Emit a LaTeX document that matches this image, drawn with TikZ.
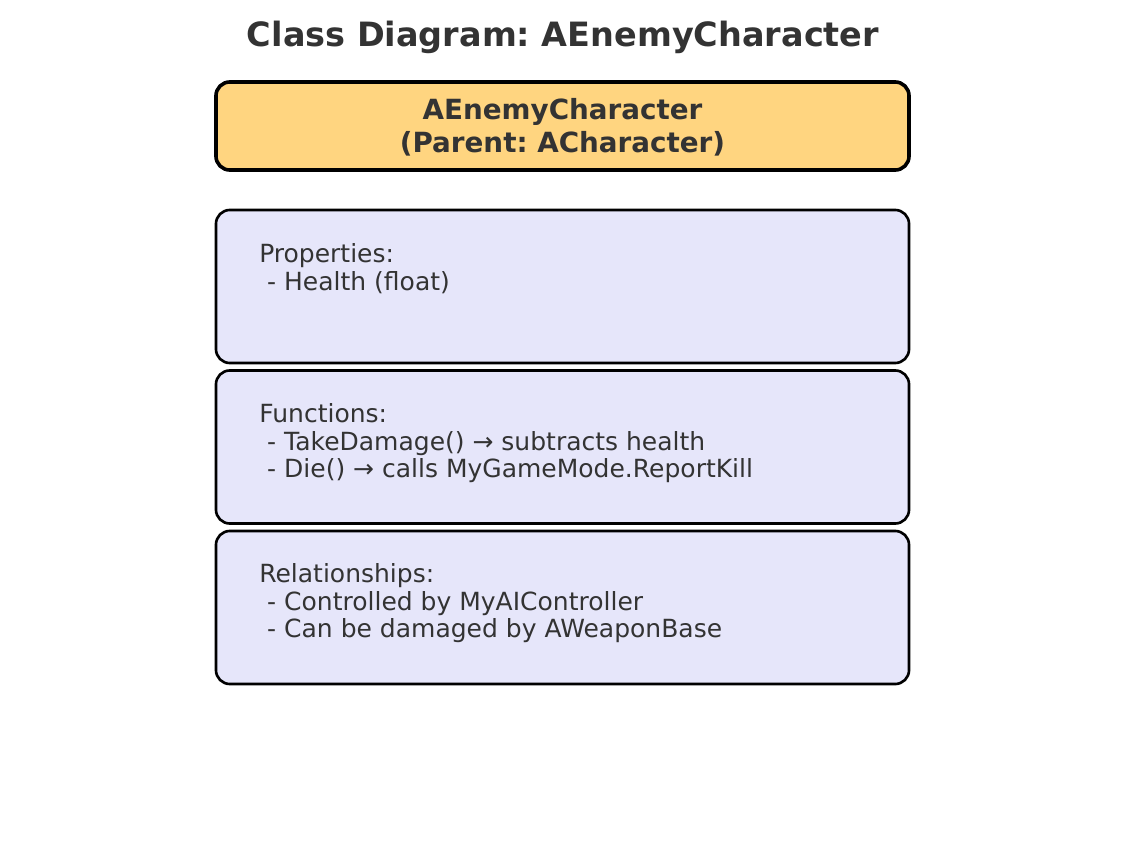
\documentclass[tikz,border=0pt]{standalone}
\usepackage{fontspec}
\setmainfont{DejaVu Sans}
\frenchspacing
\definecolor{ink}{HTML}{333333}
\definecolor{headfill}{HTML}{FFD580}
\definecolor{bodyfill}{HTML}{E6E6FA}
\begin{document}
\begin{tikzpicture}[x=0.72pt, y=-0.72pt,
  headbox/.style={draw=black, fill=headfill, line width=2.6pt, rounded corners=10pt,
    minimum width=499pt, minimum height=63.4pt, inner sep=0pt},
  bodybox/.style={draw=black, fill=bodyfill, line width=1.9pt, rounded corners=10pt,
    minimum width=499pt, minimum height=110.2pt, inner sep=0pt},
  headtext/.style={text=ink, font=\fontsize{20pt}{23.8pt}\selectfont\bfseries, align=center, inner sep=0pt},
  bodytext/.style={text=ink, font=\fontsize{18pt}{19.8pt}\selectfont, align=left, inner sep=0pt, anchor=north west},
  titletext/.style={text=ink, font=\fontsize{24.1pt}{28pt}\selectfont\bfseries, inner sep=0pt, anchor=base}
]
\useasboundingbox (0,0) rectangle (1124,852);

% title
\node[titletext] (title) at (563,46) {Class Diagram: AEnemyCharacter};

% class header
\node[headbox] (head) at (562.5,126) {};
\node[headtext, anchor=center] (headname) at (562.5,127.5) {AEnemyCharacter\\(Parent: ACharacter)};

% compartments
\node[bodybox] (props) at (562.5,286.5) {};
\node[bodybox] (funcs) at (562.5,447) {};
\node[bodybox] (rels) at (562.5,607.5) {};

\node[bodytext] (propstext) at (259,243.5) {Properties:\\~- Health (float)};
\node[bodytext] (funcstext) at (259,403.5) {Functions:\\~- TakeDamage() → subtracts health\\~- Die() → calls MyGameMode.ReportKill};
\node[bodytext] (relstext) at (259,563.5) {Relationships:\\~- Controlled by MyAIController\\~- Can be damaged by AWeaponBase};
\end{tikzpicture}
\end{document}
